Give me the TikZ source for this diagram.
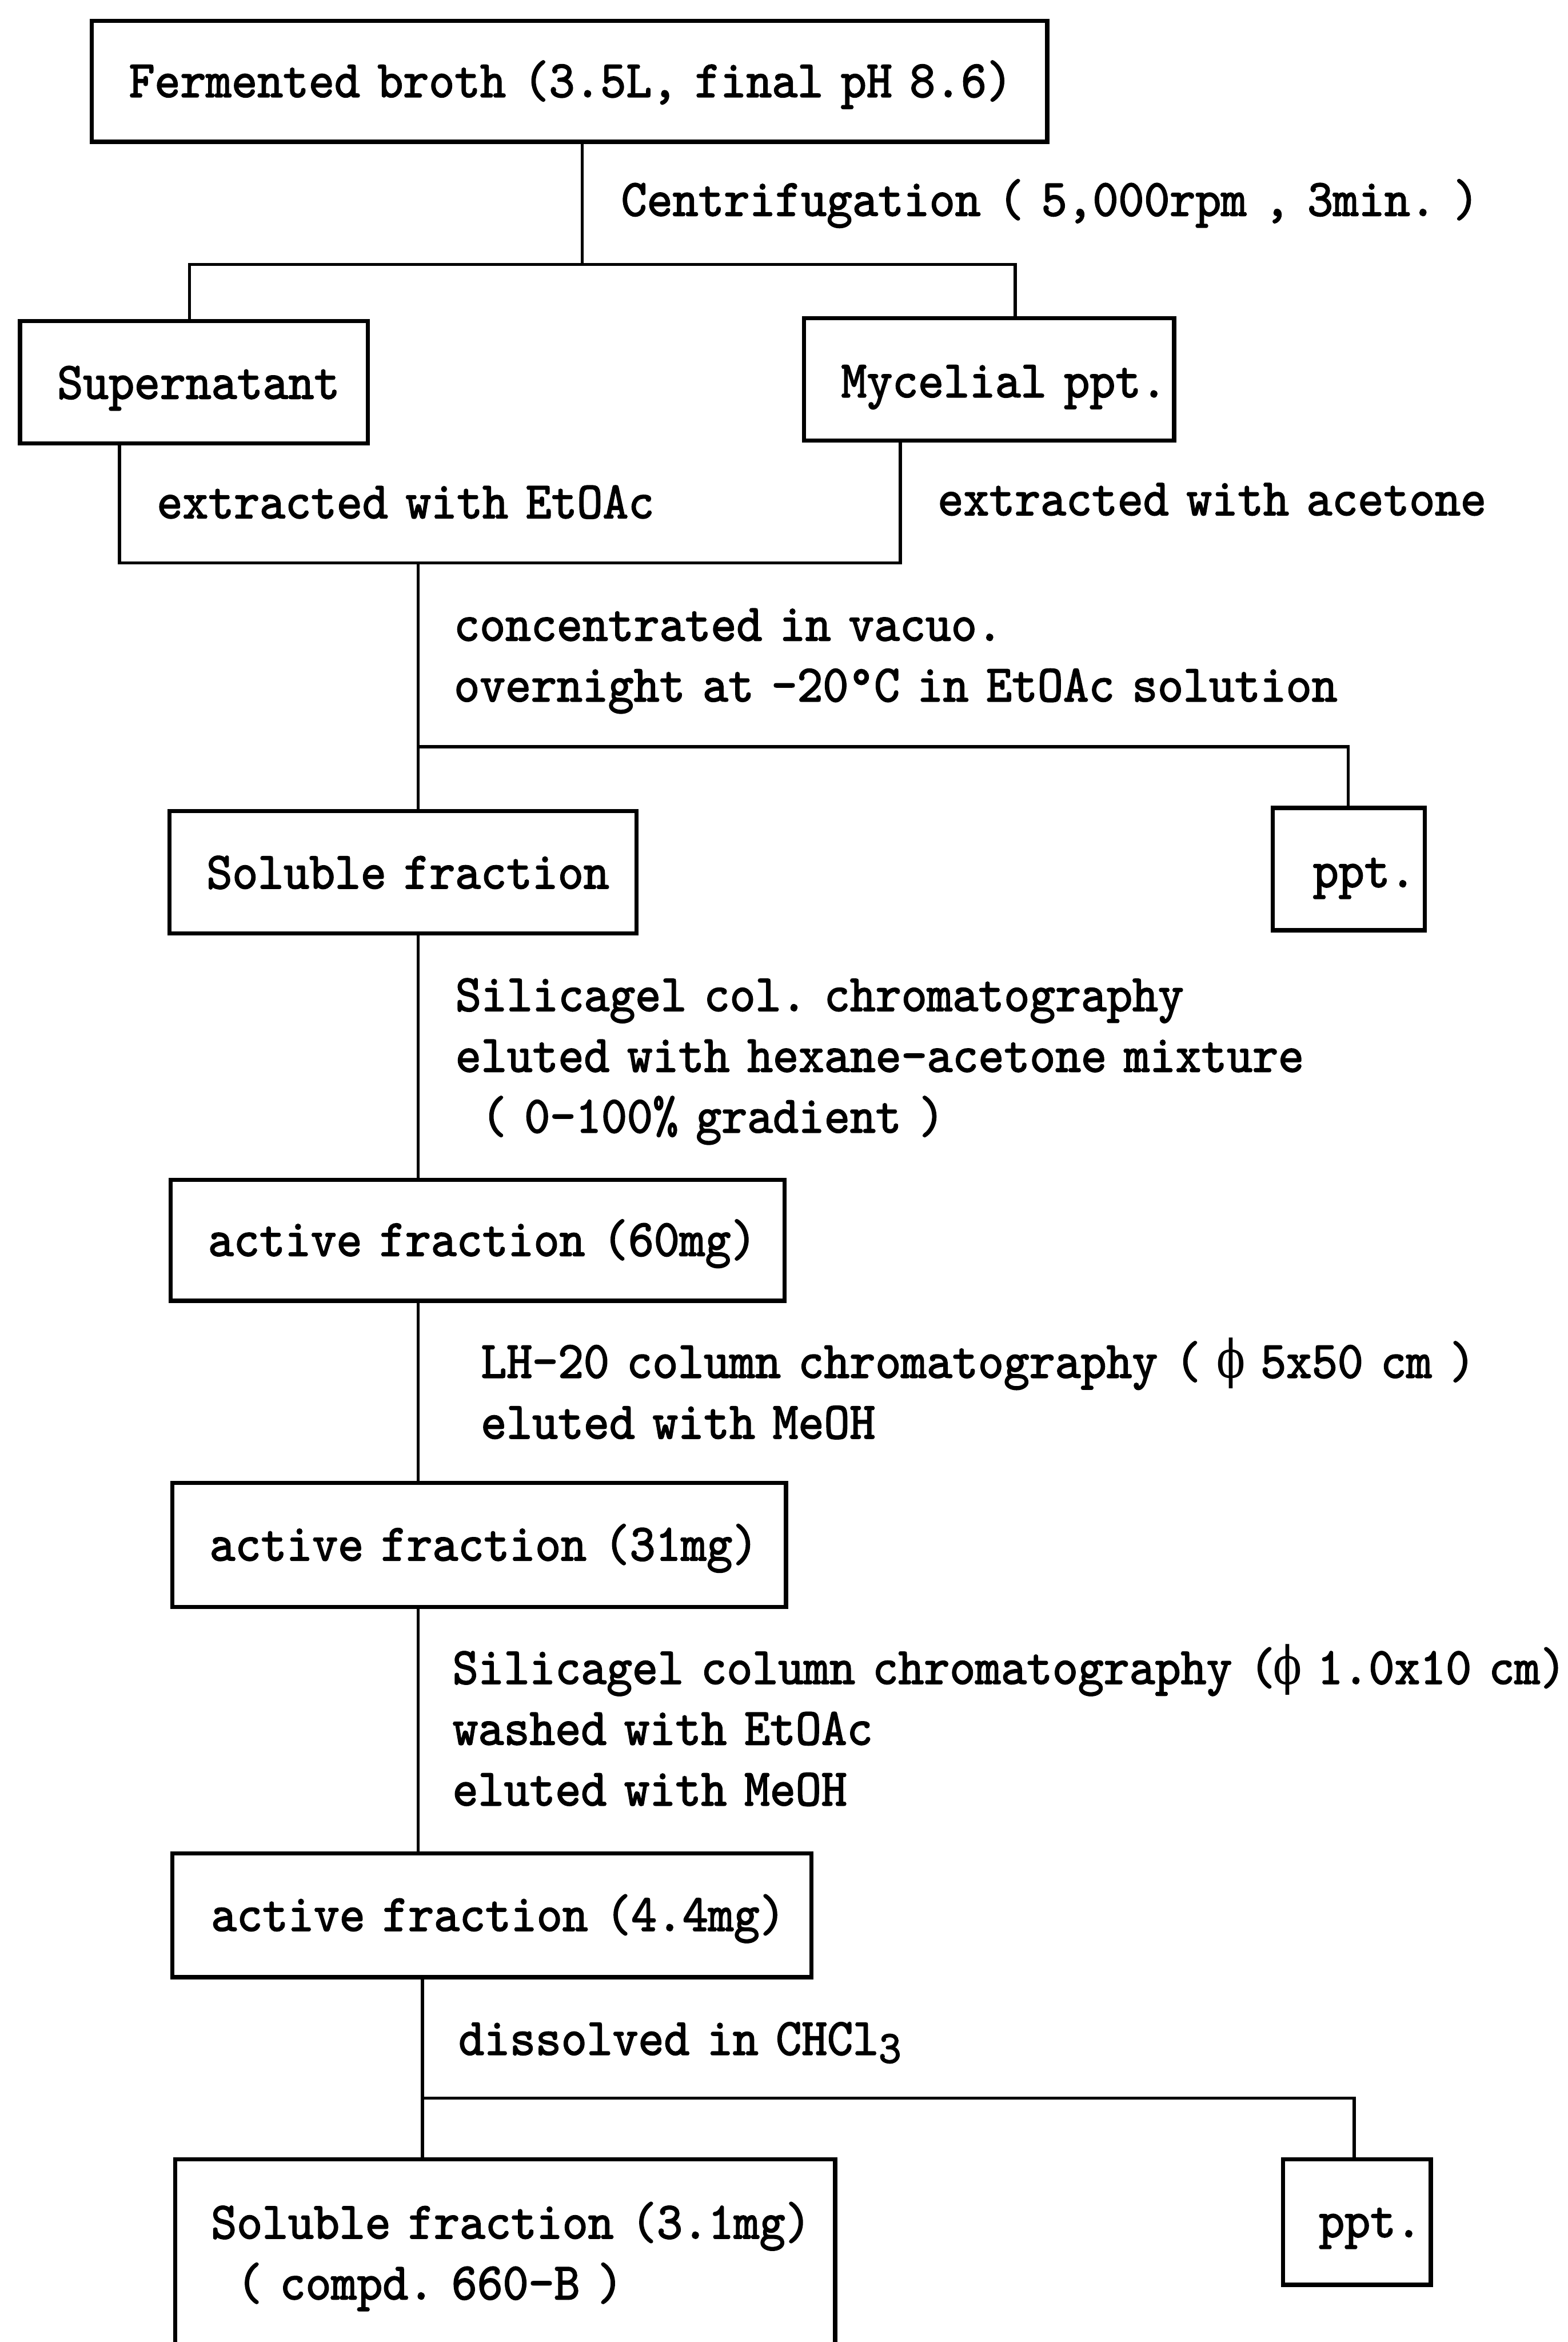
\documentclass[tikz,border=0pt]{standalone}
\usepackage{fontspec}
% typewriter face, slightly condensed and thickened
\newfontfamily\flowfont{lmmono10-regular}[Extension=.otf, FakeStretch=0.932, FakeBold=2]
\newfontfamily\phifont{DejaVu Serif}[FakeStretch=0.8]
% diameter sign kept to one character cell
\newcommand{\diam}{\makebox[8.25mm][c]{\phifont ϕ}}
\begin{document}
\begin{tikzpicture}[x=0.5mm, y=-0.5mm,
  every node/.style={font=\flowfont\fontsize{50}{57.9}\selectfont\frenchspacing},
  stagebox/.style={draw, line width=4pt, rectangle, anchor=base west, inner ysep=0pt, align=left},
  note/.style={anchor=base west, inner sep=0pt, align=left, text width=400mm},
  wire/.style={line width=3pt, line join=miter}]

\useasboundingbox (0,0) rectangle (1050,1568.3);
\clip (0,0) rectangle (1050,1568.3);
\fill[white] (0,0) rectangle (1050,1568.3);

% stages
\node[stagebox, inner xsep=12.5mm, text width=295mm, text height=25.5mm, text depth=15mm]
  (broth) at (60,65) {\mbox{Fermented broth (3.5L, final pH 8.6)}};
\node[stagebox, inner xsep=12.5mm, text width=91.5mm, text height=26mm, text depth=15mm]
  (super) at (12,267) {\mbox{Supernatant}};
\node[stagebox, inner xsep=12.5mm, text width=99mm, text height=26.5mm, text depth=14.5mm]
  (myc) at (537,266) {\mbox{Mycelial ppt.}};
\node[stagebox, inner xsep=12.5mm, text width=131.5mm, text height=26mm, text depth=15mm]
  (sol) at (112,595) {\mbox{Soluble fraction}};
\node[stagebox, inner xsep=13.5mm, text width=24mm, text height=26.5mm, text depth=14.5mm]
  (ppta) at (851,594) {\mbox{ppt.}};
\node[stagebox, inner xsep=12.5mm, text width=180.5mm, text height=25.5mm, text depth=15mm]
  (act60) at (113,841) {\mbox{active fraction (60mg)}};
\node[stagebox, inner xsep=12.5mm, text width=180.5mm, text height=26mm, text depth=15.5mm]
  (act31) at (114,1045) {\mbox{active fraction (31mg)}};
\node[stagebox, inner xsep=13mm, text width=188mm, text height=26mm, text depth=15.5mm]
  (act44) at (114,1293) {\mbox{active fraction (4.4mg)}};
\node[stagebox, inner xsep=12mm, text width=197mm, text height=26.5mm, text depth=80.5mm]
  (sol31) at (116,1499) {\mbox{Soluble fraction (3.1mg)}\\\mbox{\phantom{x}( compd. 660-B )}};
\node[stagebox, inner xsep=12mm, text width=25.5mm, text height=26mm, text depth=16mm]
  (pptb) at (858,1498) {\mbox{ppt.}};

% step descriptions
\node[note] (spin) at (416,144.5) {Centrifugation ( 5,000rpm , 3min. )};
\node[note] (exet) at (105,347) {extracted with EtOAc};
\node[note] (exac) at (628,345) {extracted with acetone};
\node[note] (conc) at (304,429) {concentrated in vacuo.\\overnight at -20°C in EtOAc solution};
\node[note] (sgone) at (305,677) {Silicagel col. chromatography\\eluted with hexane-acetone mixture\\\phantom{x}( 0-100\% gradient )};
\node[note] (lhcol) at (322,922.6) {LH-20 column chromatography ( \diam{} 5x50 cm )\\eluted with MeOH};
\node[note] (sgtwo) at (303,1127.6) {Silicagel column chromatography (\diam{} 1.0x10 cm)\\washed with EtOAc\\eluted with MeOH};
\node[note] (diss) at (307,1376) {dissolved in CHCl\raisebox{-0.35ex}{\fontsize{44}{44}\selectfont 3}};

% junction points
\coordinate (j1) at (390,177);
\coordinate (bl) at (127,177);
\coordinate (br) at (680,177);
\coordinate (cl) at (80,377);
\coordinate (cr) at (603,377);
\coordinate (s1) at (280,500);
\coordinate (s2) at (903,500);
\coordinate (t1) at (283,1405);
\coordinate (t2) at (907,1405);

% connectors
\draw[wire] (broth.south -| j1) -- (j1);
\draw[wire] (super.north -| bl) -- (bl) -- (br) -- (myc.north -| br);
\draw[wire] (super.south -| cl) -- (cl) -- (cr) -- (myc.south -| cr);
\draw[wire] (cl -| s1) -- (s1) -- (s2) -- (ppta.north -| s2);
\draw[wire] (s1) -- (sol.north -| s1);
\draw[wire] (sol.south -| s1) -- (act60.north -| s1);
\draw[wire] (act60.south -| s1) -- (act31.north -| s1);
\draw[wire] (act31.south -| s1) -- (act44.north -| s1);
\draw[wire] (act44.south -| t1) -- (t1) -- (t2) -- (pptb.north -| t2);
\draw[wire] (t1) -- (sol31.north -| t1);
\end{tikzpicture}
\end{document}
